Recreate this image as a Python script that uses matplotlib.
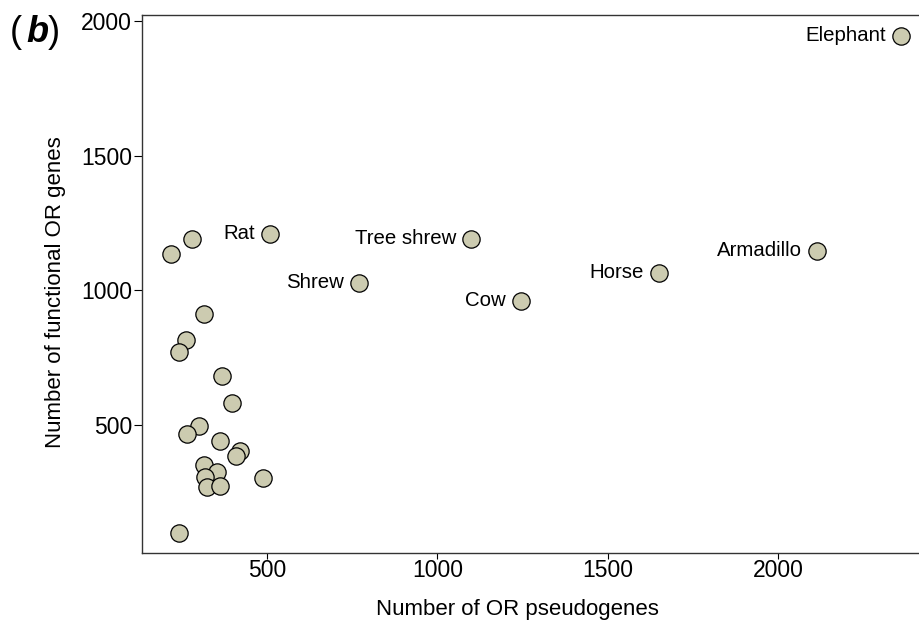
import matplotlib.pyplot as plt

plt.rcParams['font.family'] = ['Liberation Sans', 'DejaVu Sans']

# unlabelled species (pseudogenes, functional genes)
other_pseudo = [280, 219, 317, 264, 241, 368, 399, 302, 267, 362, 422, 409,
                317, 354, 319, 324, 363, 489, 241]
other_func = [1190, 1135, 911, 817, 772, 683, 582, 495, 466, 439, 404, 385,
              350, 326, 305, 270, 272, 304, 97]

# labelled species
names = ['Rat', 'Shrew', 'Tree shrew', 'Cow', 'Horse', 'Armadillo', 'Elephant']
named_pseudo = [510, 770, 1099, 1245, 1650, 2113, 2360]
named_func = [1210, 1029, 1192, 961, 1066, 1148, 1947]

xticks = [500, 1000, 1500, 2000]
yticks = [500, 1000, 1500, 2000]

fig = plt.figure(figsize=(9.2, 6.23), dpi=100)
ax = fig.add_axes([0.154, 0.112, 0.859, 0.8636])

face = '#cccbb0'
ax.scatter(other_pseudo, other_func, s=155, facecolor=face, edgecolor='black',
           linewidth=0.9, zorder=3)
ax.scatter(named_pseudo, named_func, s=155, facecolor=face, edgecolor='black',
           linewidth=0.9, zorder=3)

for name, x, y in zip(names, named_pseudo, named_func):
    ax.annotate(name, (x, y), xytext=(-11, 0), textcoords='offset points',
                ha='right', va='center', fontsize=14.7)

ax.set_xlim(133, 2450)
ax.set_ylim(22.7, 2023)
ax.set_xticks(xticks)
ax.set_yticks(yticks)
ax.tick_params(axis='both', labelsize=16.5, direction='out', width=0.8)
ax.tick_params(axis='y', length=6, pad=1)
ax.tick_params(axis='x', length=4, pad=0)

for side in ['left', 'bottom', 'top']:
    ax.spines[side].set_linewidth(1.0)
    ax.spines[side].set_color('#333333')
ax.spines['right'].set_visible(False)

ax.set_xlabel('Number of OR pseudogenes', fontsize=16)
ax.set_ylabel('Number of functional OR genes', fontsize=16)
ax.xaxis.set_label_coords(0.476, -0.085)
ax.yaxis.set_label_coords(-0.096, 0.485)

fig.text(0.011, 0.948, '(', fontsize=26, va='center', ha='left')
fig.text(0.029, 0.948, 'b', fontsize=26, fontweight='bold', style='italic',
         va='center', ha='left')
fig.text(0.052, 0.948, ')', fontsize=26, va='center', ha='left')

fig.savefig('out.png', dpi=100)
